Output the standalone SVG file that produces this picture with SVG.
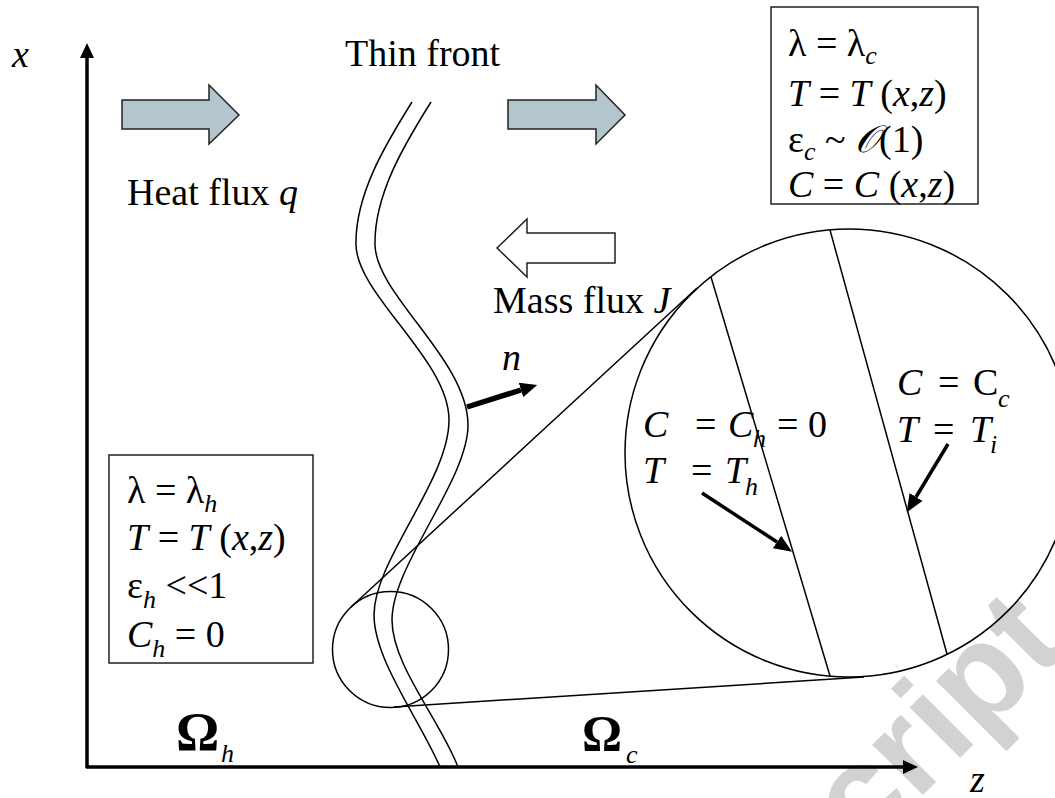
<svg xmlns="http://www.w3.org/2000/svg" width="1055" height="798" viewBox="0 0 1055 798">
<defs>
<style>
text{font-family:"Liberation Serif","Times New Roman",serif;font-size:38px;fill:#000}
.i{font-style:italic}
.s{font-style:italic;font-size:26px}
.om{font-weight:bold;font-size:54px}
.thin{fill:none;stroke:#000;stroke-width:1.5}
.box{fill:#fff;stroke:#222;stroke-width:1.5}
.heat{fill:#b3c6ce;stroke:#222;stroke-width:1.5}
.mass{fill:#fff;stroke:#222;stroke-width:1.5}
.axis{fill:none;stroke:#000;stroke-width:3.5}
.arr{fill:none;stroke:#000;stroke-width:3.5}
.wm{font-family:"Liberation Sans",Arial,sans-serif;font-weight:bold;font-size:135px;fill:#d2d2d2}
</style>
<marker id="axHead" markerUnits="userSpaceOnUse" markerWidth="15" markerHeight="14" viewBox="0 0 15 14" refX="0" refY="7" orient="auto">
<path d="M0,0 L15,7 L0,14 Z" fill="#000"/>
</marker>
<marker id="arHead" markerUnits="userSpaceOnUse" markerWidth="18" markerHeight="15" viewBox="0 0 18 15" refX="0" refY="7.5" orient="auto">
<path d="M0,0 L18,7.5 L0,15 Z" fill="#000"/>
</marker>
<marker id="nHead" markerUnits="userSpaceOnUse" markerWidth="17" markerHeight="15" viewBox="0 0 17 15" refX="0" refY="7.5" orient="auto">
<path d="M0,0 L17,7.5 L0,15 Z" fill="#000"/>
</marker>
</defs>
<rect width="1055" height="798" fill="#fff"/>

<g id="watermark">
<text class="wm" x="1070" y="648" text-anchor="end" transform="rotate(-45 1070 648)">cript</text>
</g>

<g id="axes">
<line class="axis" x1="87" y1="768" x2="87" y2="58" marker-end="url(#axHead)"/>
<line class="axis" x1="86" y1="767" x2="903" y2="767" marker-end="url(#axHead)"/>
<text class="i" x="12" y="67">x</text>
<text class="i" x="970" y="792">z</text>
</g>

<g id="front">
<path class="thin" d="M412,102 C385,145 355,195 356,245 C357,295 449,360 449,420 C449,480 374,560 374,615 C374,660 420,720 440,767"/>
<path class="thin" d="M431,102 C404,145 374,195 375,245 C376,295 468,360 468,425 C468,480 392,565 392,620 C392,665 440,720 458,767"/>
<text x="345" y="66">Thin front</text>
</g>

<g id="heat-flux">
<path class="heat" d="M122,100 H209 V85 L239,115 L209,144 V129 H122 Z"/>
<path class="heat" d="M508,100 H596 V85 L625,115 L596,144 V129 H508 Z"/>
<text x="127" y="205">Heat flux <tspan class="i">q</tspan></text>
</g>

<g id="mass-flux">
<path class="mass" d="M615,233 H527 V219 L497,248 L527,277 V263 H615 Z"/>
<text x="493" y="313">Mass flux <tspan class="i">J</tspan></text>
</g>

<g id="cold-box">
<rect class="box" x="771" y="7" width="207" height="197"/>
<text x="788" y="56">λ = λ<tspan class="s" dy="8">c</tspan></text>
<text x="788" y="106"><tspan class="i">T</tspan> = <tspan class="i">T</tspan> (<tspan class="i">x</tspan>,<tspan class="i">z</tspan>)</text>
<text x="788" y="152">ε<tspan class="s" dy="8">c</tspan><tspan dy="-8"> ~ </tspan><tspan class="i">𝒪</tspan>(1)</text>
<text x="788" y="197"><tspan class="i">C</tspan> = <tspan class="i">C</tspan> (<tspan class="i">x</tspan>,<tspan class="i">z</tspan>)</text>
</g>

<g id="hot-box">
<rect class="box" x="109" y="455" width="204" height="208"/>
<text x="127" y="503">λ = λ<tspan class="s" dy="9">h</tspan></text>
<text x="127" y="550"><tspan class="i">T</tspan> = <tspan class="i">T</tspan> (<tspan class="i">x</tspan>,<tspan class="i">z</tspan>)</text>
<text x="127" y="598">ε<tspan class="s" dy="10">h</tspan><tspan dy="-10"> &lt;&lt;1</tspan></text>
<text x="127" y="647"><tspan class="i">C</tspan><tspan class="s" dy="10">h</tspan><tspan dy="-10"> = 0</tspan></text>
</g>

<g id="normal">
<line x1="467" y1="407" x2="521" y2="390" stroke="#000" stroke-width="5.5" marker-end="url(#nHead)"/>
<text class="i" x="502" y="370">n</text>
</g>

<g id="zoom-circle-small">
<circle class="thin" cx="390.5" cy="649.5" r="58"/>
</g>

<g id="zoom-lines">
<line class="thin" x1="351" y1="607" x2="697" y2="288"/>
<line class="thin" x1="394" y1="707" x2="864" y2="677"/>
</g>

<g id="zoom-circle-big">
<circle class="thin" cx="849" cy="453" r="224"/>
<line class="thin" x1="711" y1="277" x2="830" y2="676"/>
<line class="thin" x1="830" y1="230" x2="947" y2="654"/>
<text class="i" x="643" y="437">C</text>
<text x="695" y="437">=</text>
<text class="i" x="728" y="437">C</text>
<text class="s" x="753" y="447">h</text>
<text x="777" y="437">= 0</text>
<text class="i" x="643" y="483">T</text>
<text x="691" y="483">=</text>
<text class="i" x="725" y="483">T</text>
<text class="s" x="745" y="495">h</text>
<text class="i" x="897" y="395">C</text>
<text x="938" y="395">=</text>
<text x="973" y="395">C</text>
<text class="s" x="998" y="407">c</text>
<text class="i" x="897" y="442">T</text>
<text x="933" y="442">=</text>
<text class="i" x="970" y="442">T</text>
<text class="s" x="990" y="453">i</text>
</g>

<g id="connectors">
<line class="arr" x1="702" y1="493" x2="777" y2="542" marker-end="url(#arHead)"/>
<line class="arr" x1="948" y1="444" x2="916" y2="497" marker-end="url(#arHead)"/>
</g>

<g id="domains">
<text class="om" x="176" y="750">Ω</text>
<text class="s" x="221" y="762">h</text>
<text class="om" x="582" y="750" style="font-size:50px">Ω</text>
<text class="s" x="626" y="763">c</text>
</g>
</svg>
